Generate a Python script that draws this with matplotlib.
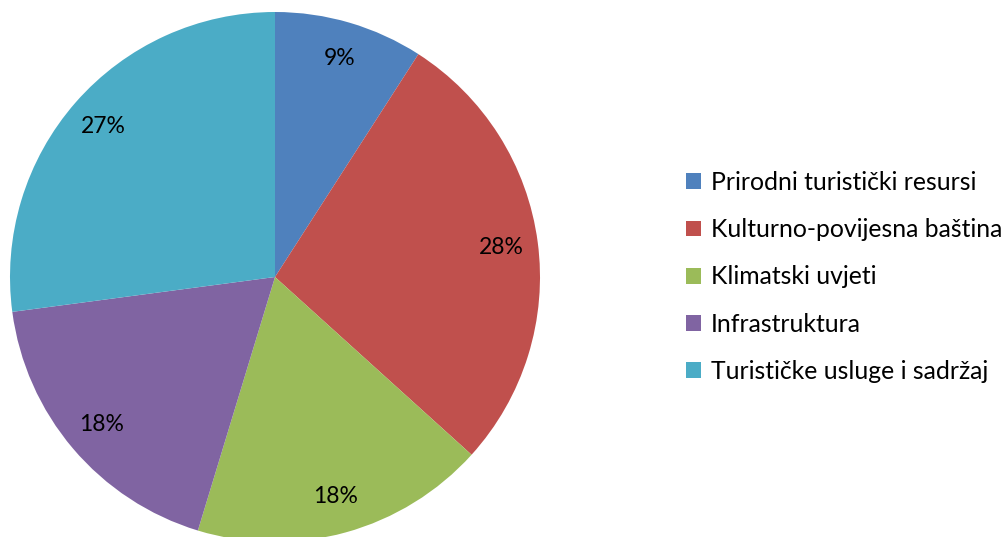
import matplotlib.pyplot as plt

plt.rcParams["font.family"] = ["Lato", "DejaVu Sans"]

# udjeli po kategoriji (%), ocitano s kruga
kategorije = ["Prirodni turistički resursi", "Kulturno-povijesna baština",
              "Klimatski uvjeti", "Infrastruktura", "Turističke usluge i sadržaj"]
udjeli = [9.1, 27.6, 18.0, 18.2, 27.1]
boje = ["#4F81BD", "#C0504D", "#9BBB59", "#8064A2", "#4BACC6"]

fig = plt.figure(figsize=(10.04, 5.37), dpi=100)
ax = fig.add_axes([10/1004, -5/537, 530/1004, 530/537])
wedges, texts, autotexts = ax.pie(udjeli, colors=boje, startangle=90, counterclock=False,
                                  autopct="%1.0f%%", pctdistance=0.86, radius=1,
                                  textprops={"fontsize": 16.5, "color": "black"})
ax.set_xlim(-1, 1)
ax.set_ylim(-1, 1)
ax.set_aspect("equal")
ax.axis("off")

fig.legend(wedges, kategorije, loc="center left", bbox_to_anchor=(686/1004, 1 - 277/537),
           frameon=False, fontsize=17.8, handlelength=0.6, handleheight=0.6,
           handletextpad=0.4, labelspacing=0.98, borderaxespad=0, borderpad=0)

fig.savefig("out.png", dpi=100)
